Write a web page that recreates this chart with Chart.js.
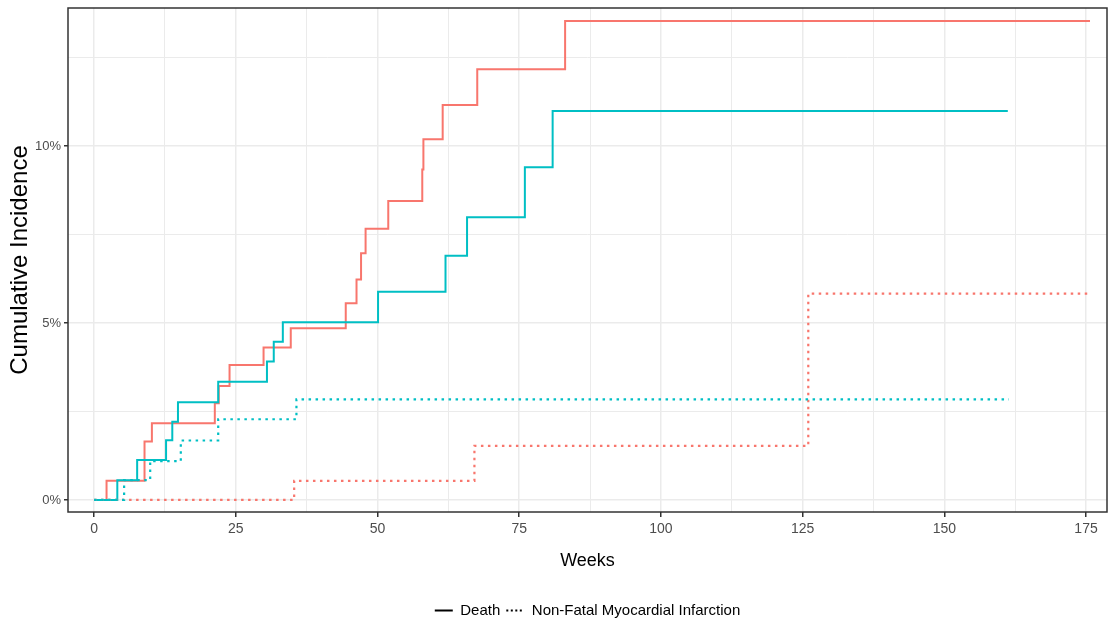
<!DOCTYPE html>
<html>
<head>
<meta charset="utf-8">
<script src="https://cdn.jsdelivr.net/npm/chart.js@4.4.1/dist/chart.umd.min.js"></script>
<style>
  html, body { margin: 0; padding: 0; background: #fff; }
  #wrap { width: 1113px; height: 628px; }
</style>
</head>
<body>
<div id="wrap"><canvas id="incidence" width="1113" height="628"></canvas></div>
<script>
// step functions: week of each event and cumulative incidence (%) after it
var armADeathWeeks = [0, 2.2, 8.9, 10.2, 21.3, 22.0, 23.9, 29.9, 34.7, 44.4, 46.3, 47.1, 47.9, 51.9, 57.9, 58.1, 61.5, 67.6, 83.1, 175.7];
var armADeathPct   = [0, 0.54, 1.65, 2.17, 2.73, 3.22, 3.81, 4.31, 4.85, 5.56, 6.23, 6.97, 7.66, 8.45, 9.34, 10.19, 11.16, 12.17, 13.53, 13.53];

var armBDeathWeeks = [0, 4.1, 7.6, 12.7, 13.8, 14.8, 21.9, 30.5, 31.7, 33.3, 50.1, 62.0, 65.8, 76.0, 80.9, 161.2];
var armBDeathPct   = [0, 0.56, 1.13, 1.69, 2.21, 2.76, 3.34, 3.91, 4.47, 5.02, 5.88, 6.90, 7.99, 9.40, 10.99, 10.99];

var armAMiWeeks = [0, 35.3, 67.1, 126.0, 175.5];
var armAMiPct   = [0, 0.54, 1.53, 5.83, 5.83];

var armBMiWeeks = [0, 5.3, 9.9, 15.3, 21.9, 35.7, 161.4];
var armBMiPct   = [0, 0.56, 1.10, 1.68, 2.28, 2.84, 2.84];

var xTicks = [0, 12.5, 25, 37.5, 50, 62.5, 75, 87.5, 100, 112.5, 125, 137.5, 150, 162.5, 175];
var yTicks = [0, 2.5, 5, 7.5, 10, 12.5];
var legendNames = ['Death', 'Non-Fatal Myocardial Infarction'];

var RED = '#F8766D';
var TEAL = '#00BFC4';
var DOTS = [2.5, 4.5];
var sans = "'Liberation Sans', Arial, sans-serif";
var LEGEND_H = 31; // itemHeight 15 + padding 6 + 10

function toPoints(xs, ys) {
    var pts = [];
    for (var i = 0; i < xs.length; i++) {
        pts.push({x: xs[i], y: ys[i]});
    }
    return pts;
}

function stepLine(xs, ys, color, dash) {
    return {
        data: toPoints(xs, ys),
        borderColor: color,
        borderWidth: dash.length ? 2.2 : 2,
        borderDash: dash,
        borderCapStyle: 'butt',
        stepped: 'before',
        pointRadius: 0,
        fill: false
    };
}

// box around the panel, like theme_bw
var panelBorder = {
    id: 'panelBorder',
    afterDatasetsDraw: function (chart) {
        var a = chart.chartArea;
        var ctx = chart.ctx;
        ctx.save();
        ctx.strokeStyle = '#333333';
        ctx.lineWidth = 1.5;
        ctx.strokeRect(a.left, a.top, a.right - a.left, a.bottom - a.top);
        ctx.restore();
    }
};

var isMajor = function (v, step) { return Math.abs(v / step - Math.round(v / step)) < 1e-6; };

var ctx = document.getElementById('incidence');
new Chart(ctx, {
    type: 'line',
    data: {
        datasets: [
            stepLine(armBMiWeeks, armBMiPct, TEAL, DOTS),
            stepLine(armAMiWeeks, armAMiPct, RED, DOTS),
            stepLine(armBDeathWeeks, armBDeathPct, TEAL, []),
            stepLine(armADeathWeeks, armADeathPct, RED, [])
        ]
    },
    plugins: [panelBorder],
    options: {
        responsive: false,
        animation: false,
        devicePixelRatio: 1,
        layout: { padding: { left: 4, right: 6, top: 8, bottom: 0 } },
        plugins: {
            tooltip: { enabled: false },
            legend: {
                position: 'bottom',
                fullSize: false,
                labels: {
                    usePointStyle: true,
                    pointStyleWidth: 18,
                    padding: 6,
                    color: '#000000',
                    font: { family: sans, size: 15 },
                    generateLabels: function () {
                        return legendNames.map(function (name, i) {
                            return {
                                text: name,
                                fillStyle: '#000000',
                                strokeStyle: '#000000',
                                lineWidth: 2,
                                lineDash: i === 0 ? [] : [2, 2.5],
                                pointStyle: 'line',
                                hidden: false,
                                datasetIndex: i
                            };
                        });
                    }
                }
            }
        },
        scales: {
            x: {
                type: 'linear',
                min: -4.6,
                max: 178.7,
                afterBuildTicks: function (axis) {
                    axis.ticks = xTicks.map(function (v) { return {value: v}; });
                },
                afterFit: function (scale) {
                    var lg = scale.chart.legend;
                    scale.height = 628 - ((lg && lg.height) || LEGEND_H) - 512;
                },
                ticks: {
                    autoSkip: false,
                    maxRotation: 0,
                    padding: 4,
                    color: '#4d4d4d',
                    font: { family: sans, size: 14 },
                    callback: function (v) { return isMajor(v, 25) ? String(v) : ''; }
                },
                grid: {
                    color: '#ebebeb',
                    lineWidth: function (c) { return c.tick && isMajor(c.tick.value, 25) ? 1.5 : 1; },
                    tickLength: 5,
                    tickWidth: 1.5,
                    tickColor: function (c) { return c.tick && isMajor(c.tick.value, 25) ? '#333333' : 'rgba(0,0,0,0)'; }
                },
                border: { display: false },
                title: {
                    display: true,
                    text: 'Weeks',
                    color: '#000000',
                    font: { family: sans, size: 18 },
                    padding: { top: 4, bottom: 25 }
                }
            },
            y: {
                type: 'linear',
                min: -0.34,
                max: 13.9,
                afterBuildTicks: function (axis) {
                    axis.ticks = yTicks.map(function (v) { return {value: v}; });
                },
                afterFit: function (scale) {
                    scale.width = 64;
                    scale.paddingTop = 0;
                    scale.paddingBottom = 0;
                },
                ticks: {
                    padding: 3,
                    color: '#4d4d4d',
                    font: { family: sans, size: 13 },
                    callback: function (v) { return isMajor(v, 5) ? v + '%' : ''; }
                },
                grid: {
                    color: '#ebebeb',
                    lineWidth: function (c) { return c.tick && isMajor(c.tick.value, 5) ? 1.5 : 1; },
                    tickLength: 4,
                    tickWidth: 1.5,
                    tickColor: function (c) { return c.tick && isMajor(c.tick.value, 5) ? '#333333' : 'rgba(0,0,0,0)'; }
                },
                border: { display: false },
                title: {
                    display: true,
                    text: 'Cumulative Incidence',
                    color: '#000000',
                    font: { family: sans, size: 24 },
                    padding: { top: 2, bottom: 2 }
                }
            }
        }
    }
});
</script>
</body>
</html>
